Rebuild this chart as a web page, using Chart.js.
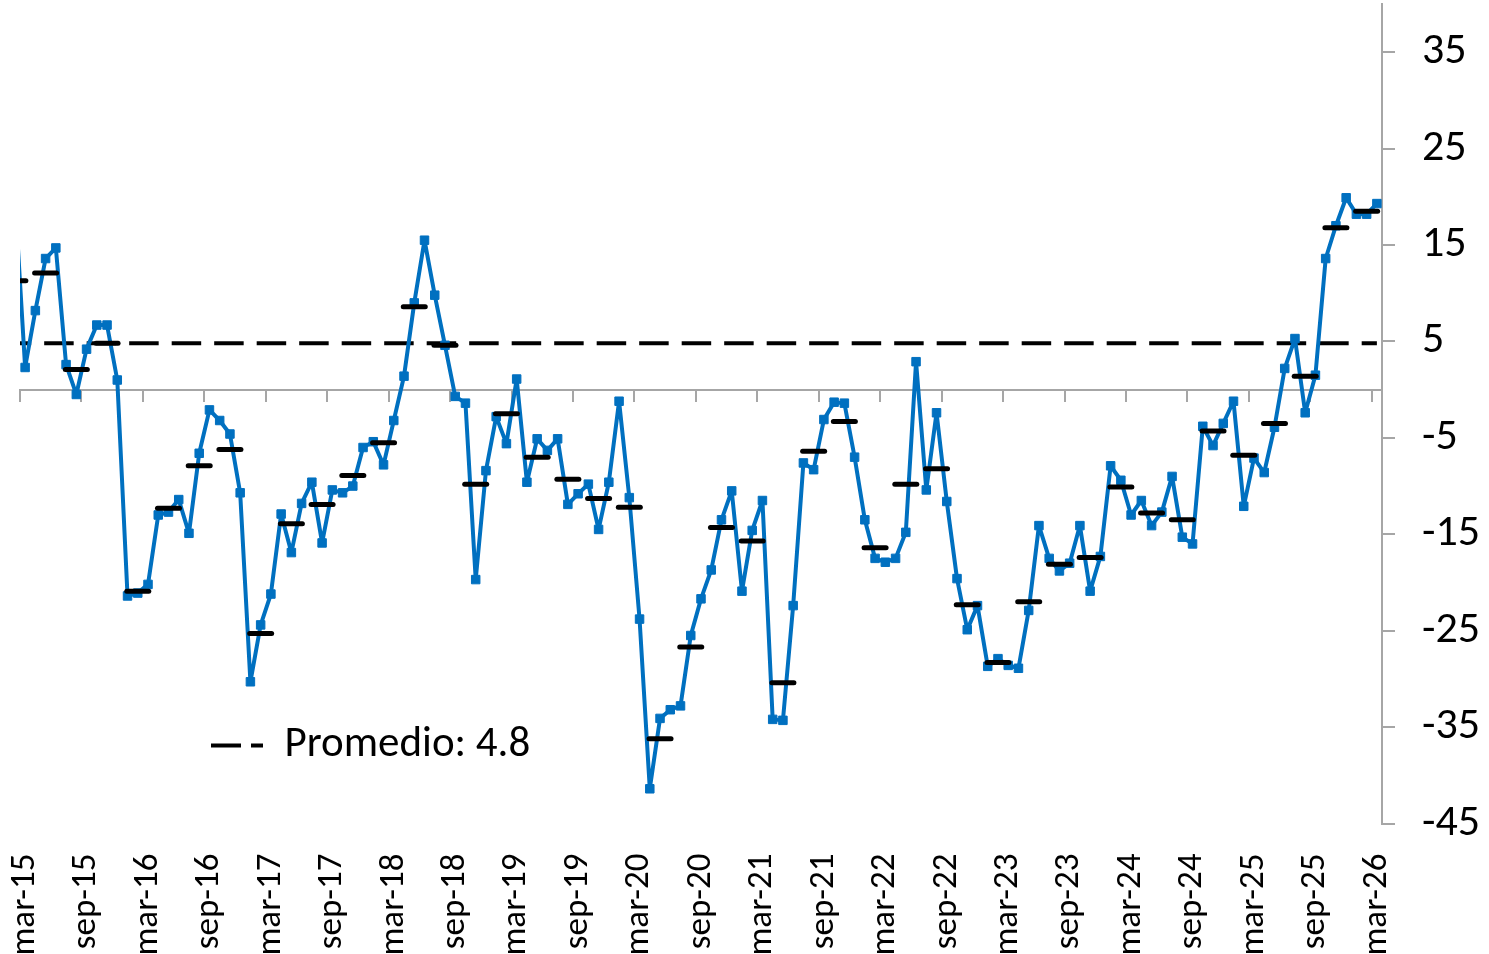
<!DOCTYPE html>
<html>
<head>
<meta charset="utf-8">
<script src="https://cdn.jsdelivr.net/npm/chart.js@4/dist/chart.umd.min.js"></script>
<style>
  html, body { margin: 0; padding: 0; background: #fff; }
  #wrap { width: 1489px; height: 954px; }
</style>
</head>
<body>
<div id="wrap"><canvas id="chart"></canvas></div>
<script>
// meses: desde feb-15 hasta mar-26
const nombresMes = ['ene', 'feb', 'mar', 'abr', 'may', 'jun', 'jul', 'ago', 'sep', 'oct', 'nov', 'dic'];
const meses = [];
for (let i = 0; i < 134; i++) {
  const m = (1 + i) % 12;
  const a = 15 + Math.floor((1 + i) / 12);
  meses.push(nombresMes[m] + '-' + a);
}

// índice mensual (feb-15 ... mar-26)
const indice = [
  20.0,
  2.3, 8.2, 13.6, 14.7, 2.6, -0.5, 4.2, 6.7, 6.7, 1.0, -21.4, -21.1,
  -20.2, -13.0, -12.7, -11.4, -14.9, -6.6, -2.1, -3.2, -4.6, -10.7, -30.3, -24.4,
  -21.2, -12.9, -16.9, -11.8, -9.6, -15.9, -10.4, -10.7, -10.0, -6.0, -5.4, -7.8,
  -3.2, 1.4, 9.0, 15.5, 9.8, 4.6, -0.7, -1.4, -19.7, -8.4, -2.8, -5.6,
  1.1, -9.6, -5.1, -6.3, -5.1, -11.9, -10.8, -9.8, -14.5, -9.6, -1.2, -11.2,
  -23.8, -41.4, -34.1, -33.2, -32.8, -25.5, -21.7, -18.7, -13.5, -10.5, -20.9, -14.6,
  -11.5, -34.2, -34.3, -22.4, -7.6, -8.3, -3.1, -1.3, -1.4, -7.0, -13.5, -17.5,
  -17.9, -17.5, -14.8, 2.9, -10.4, -2.4, -11.6, -19.6, -24.9, -22.4, -28.7, -27.9,
  -28.6, -28.9, -22.9, -14.1, -17.5, -18.8, -18.0, -14.1, -20.9, -17.3, -7.9, -9.4,
  -13.0, -11.5, -14.1, -12.7, -9.0, -15.3, -16.0, -3.8, -5.8, -3.5, -1.2, -12.1,
  -7.1, -8.6, -3.9, 2.2, 5.3, -2.4, 1.5, 13.6, 17.0, 19.9, 18.2, 18.2,
  19.3
];

// promedio trimestral (mes central de cada trimestre: feb-15, may-15, ...)
const trimestral = [
  11.3, 12.1, 2.1, 4.8, -20.9, -12.3, -7.9, -6.2, -25.3, -13.9, -11.9, -8.9,
  -5.5, 8.6, 4.6, -9.8, -2.5, -7.0, -9.3, -11.3, -12.2, -36.2, -26.7, -14.3,
  -15.7, -30.4, -6.4, -3.3, -16.4, -9.8, -8.2, -22.3, -28.3, -22.0, -18.1, -17.4,
  -10.1, -12.8, -13.5, -4.3, -6.8, -3.5, 1.4, 16.8, 18.5
];

const promedio = 4.8;

const yTicks = [-45, -35, -25, -15, -5, 5, 15, 25, 35];
const xLabelIdx = [];
for (let i = 1; i < meses.length; i += 6) xLabelIdx.push(i);
const xMarcas = [];
for (let i = 0.5; i < meses.length; i += 6) xMarcas.push(i);

const fuente = 'Carlito, Calibri, Lato, sans-serif';
const gris = '#a6a6a6';

// la leyenda no ocupa espacio y se dibuja dentro del área del gráfico
const moverLeyenda = {
  id: 'moverLeyenda',
  beforeLayout(chart) {
    const lg = chart.legend;
    if (lg && !lg._sinAlto) {
      const fit = lg.fit.bind(lg);
      lg.fit = function () { fit(); this.height = 0; };
      lg._sinAlto = true;
    }
  },
  afterLayout(chart) {
    const lg = chart.legend;
    if (!lg) return;
    lg.left = 201;
    lg.top = 714;
    lg.right = 800;
    lg.bottom = 790;
  }
};

// extremos redondeados para las rayas trimestrales
const extremosRedondos = {
  id: 'extremosRedondos',
  beforeDatasetDraw(chart, args) {
    if (args.index === 1) chart.ctx.lineCap = 'round';
  },
  afterDatasetDraw(chart, args) {
    if (args.index === 1) chart.ctx.lineCap = 'butt';
  }
};

const ctx = document.getElementById('chart').getContext('2d');
const chart = new Chart(ctx, {
  type: 'line',
  data: {
    datasets: [{
      label: 'Índice',
      data: indice.map((v, i) => ({ x: i, y: v })),
      borderColor: '#0070C0',
      backgroundColor: '#0070C0',
      borderWidth: 4,
      borderJoinStyle: 'round',
      pointStyle: 'rect',
      pointRadius: 6,
      pointBorderWidth: 1,
      tension: 0,
      order: 2
    }, {
      label: 'Trimestral',
      data: trimestral.map((v, k) => ({ x: 3 * k, y: v })),
      showLine: false,
      pointStyle: 'line',
      pointRadius: 11,
      pointBorderWidth: 5,
      pointBorderColor: '#000',
      borderColor: '#000',
      order: 1
    }, {
      label: 'Promedio: ' + promedio,
      data: meses.map((m, i) => ({ x: i, y: promedio })),
      borderColor: '#000',
      backgroundColor: '#000',
      borderWidth: 4,
      borderDash: [29.5, 13],
      borderDashOffset: 13.2,
      pointRadius: 0,
      order: 3
    }]
  },
  options: {
    responsive: true,
    maintainAspectRatio: false,
    animation: false,
    layout: { autoPadding: false, padding: { left: 20, top: 4, right: 0, bottom: 0 } },
    scales: {
      x: {
        type: 'linear',
        position: 'bottom',
        min: 0.5,
        max: meses.length - 0.5,
        grid: { display: false },
        border: { display: false },
        afterBuildTicks: s => { s.ticks = xLabelIdx.map(v => ({ value: v })); },
        afterFit: s => { s.height = 130.5; s.paddingLeft = 0; s.paddingRight = 0; },
        ticks: {
          autoSkip: false,
          minRotation: 90,
          maxRotation: 90,
          padding: 22,
          color: '#000',
          font: { family: fuente, size: 35 },
          callback: v => meses[v]
        }
      },
      x2: {
        type: 'linear',
        position: { y: 0 },
        min: 0.5,
        max: meses.length - 0.5,
        grid: { drawOnChartArea: false, drawTicks: true, tickLength: 11, color: gris, lineWidth: 2 },
        border: { display: true, color: gris, width: 2 },
        afterBuildTicks: s => { s.ticks = xMarcas.map(v => ({ value: v })); },
        afterFit: s => { s.height = 0; s.paddingLeft = 0; s.paddingRight = 0; },
        ticks: { display: false }
      },
      y: {
        position: 'right',
        min: -45,
        max: 40,
        grid: { drawOnChartArea: false, drawTicks: true, tickLength: 13, color: gris, lineWidth: 2 },
        border: { display: true, color: gris, width: 2 },
        afterBuildTicks: s => { s.ticks = yTicks.map(v => ({ value: v })); },
        afterFit: s => { s.width = 107; s.paddingTop = 0; s.paddingBottom = 0; },
        ticks: {
          padding: 27,
          color: '#000',
          font: { family: fuente, size: 44 }
        }
      }
    },
    plugins: {
      tooltip: { enabled: false },
      legend: {
        position: 'top',
        align: 'start',
        labels: {
          boxWidth: 52,
          boxHeight: 0,
          padding: 10,
          color: '#000',
          font: { family: fuente, size: 43 },
          generateLabels: c => Chart.defaults.plugins.legend.labels.generateLabels(c)
            .filter(l => l.datasetIndex === 2)
            .map(l => Object.assign(l, { lineDash: [30, 10, 12, 200], lineDashOffset: 0, lineWidth: 4, fillStyle: 'rgba(0,0,0,0)' }))
        }
      }
    }
  },
  plugins: [moverLeyenda, extremosRedondos]
});
</script>
</body>
</html>
